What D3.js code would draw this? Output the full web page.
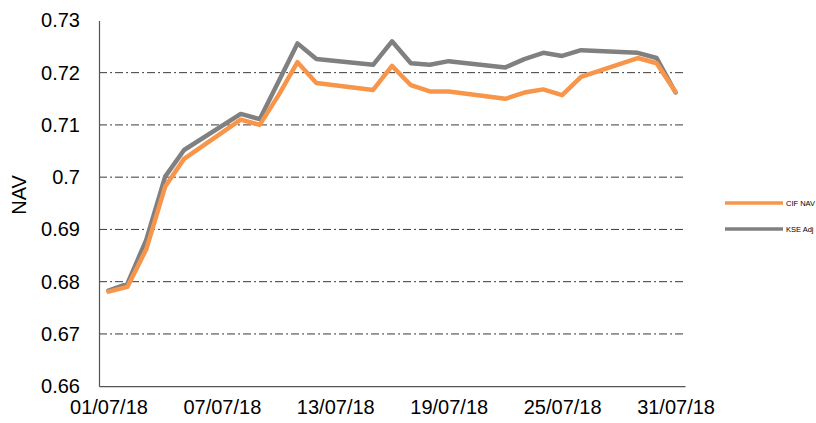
<!DOCTYPE html>
<html><head><meta charset="utf-8">
<script src="https://cdn.jsdelivr.net/npm/d3@7"></script>
<style>body{margin:0;background:#fff}svg{display:block;font-family:"Liberation Sans",Arial,sans-serif}</style>
</head><body><svg id="c" width="816" height="423"></svg>
<script>
const dates = ["01/07/18","02/07/18","03/07/18","04/07/18","05/07/18","08/07/18","09/07/18","10/07/18","11/07/18","12/07/18","15/07/18","16/07/18","17/07/18","18/07/18","19/07/18","22/07/18","23/07/18","24/07/18","25/07/18","26/07/18","29/07/18","30/07/18","31/07/18"];
const cifNav = [0.6781,0.6790,0.6862,0.6982,0.7035,0.7110,0.7100,0.7157,0.7220,0.7180,0.7167,0.7213,0.7176,0.7164,0.7164,0.7150,0.7162,0.7168,0.7157,0.7192,0.7228,0.7218,0.7163];
const kseAdj = [0.6783,0.6796,0.6880,0.7001,0.7052,0.7121,0.7111,0.7183,0.7256,0.7226,0.7215,0.7260,0.7218,0.7215,0.7222,0.7210,0.7226,0.7238,0.7232,0.7243,0.7238,0.7228,0.7162];
const yTicks = [0.66,0.67,0.68,0.69,0.70,0.71,0.72,0.73];
const yTickLabels = ["0.66","0.67","0.68","0.69","0.7","0.71","0.72","0.73"];
const xTickLabels = ["01/07/18","07/07/18","13/07/18","19/07/18","25/07/18","31/07/18"];
const seriesNames = ["CIF NAV","KSE Adj"];
const colors = ["#f7964a","#808080"];

const parse = d3.timeParse("%d/%m/%y");
const svg = d3.select("#c");
const L=99, R=685, T=20.4, B=386.2;
const x = d3.scaleTime().domain([d3.timeHour.offset(parse("01/07/18"),-12), d3.timeHour.offset(parse("31/07/18"),12)]).range([L,R]);
const y = d3.scaleLinear().domain([0.66,0.73]).range([B,T]);

// grid
svg.append("g").selectAll("line").data(yTicks.filter(v=>v>0.661 && v<0.729)).join("line")
  .attr("x1",L).attr("x2",R).attr("y1",d=>y(d)).attr("y2",d=>y(d))
  .attr("stroke","#3a3a3a").attr("stroke-width",1).attr("stroke-dasharray","8,3,2,3");

// axes
const yAxis = svg.append("g").attr("transform",`translate(${L},0)`)
  .call(d3.axisLeft(y).tickValues(yTicks).tickSize(0).tickPadding(19).tickFormat((d,i)=>yTickLabels[i]));
yAxis.select(".domain").attr("stroke","#555").attr("stroke-width",1.2);
yAxis.selectAll("text").attr("font-size",20).attr("fill","#000").attr("font-family","Liberation Sans, Arial, sans-serif");

const xAxis = svg.append("g").attr("transform",`translate(0,${B})`)
  .call(d3.axisBottom(x).tickValues(xTickLabels.map(parse)).tickSize(0).tickPadding(14).tickFormat((d,i)=>xTickLabels[i]));
xAxis.select(".domain").attr("stroke","#555").attr("stroke-width",1.2);
xAxis.selectAll("text").attr("font-size",20).attr("fill","#000").attr("font-family","Liberation Sans, Arial, sans-serif");

svg.append("text").attr("transform","translate(18.5,195) rotate(-90)")
  .attr("text-anchor","middle").attr("dominant-baseline","central")
  .attr("font-size",20).text("NAV");

// lines
const line = d3.line().x((d,i)=>x(parse(dates[i]))).y(d=>y(d));
[kseAdj, cifNav].forEach((s,k)=>{
  const ci = k===0?1:0;
  svg.append("path").attr("d",line(s)).attr("fill","none").attr("stroke",colors[ci])
    .attr("stroke-width",4.5).attr("stroke-linejoin","round").attr("stroke-linecap","round");
});
// redraw so gray on top as in reference? reference: gray on top of orange
// legend
const lg = svg.append("g");
seriesNames.forEach((n,i)=>{
  const yy = 203 + i*26;
  lg.append("line").attr("x1",725).attr("x2",783).attr("y1",yy).attr("y2",yy).attr("stroke",colors[i]).attr("stroke-width",3.3);
  lg.append("text").attr("x",786).attr("y",yy).attr("dominant-baseline","central").attr("font-size",7.5).text(n);
});
</script></body></html>
